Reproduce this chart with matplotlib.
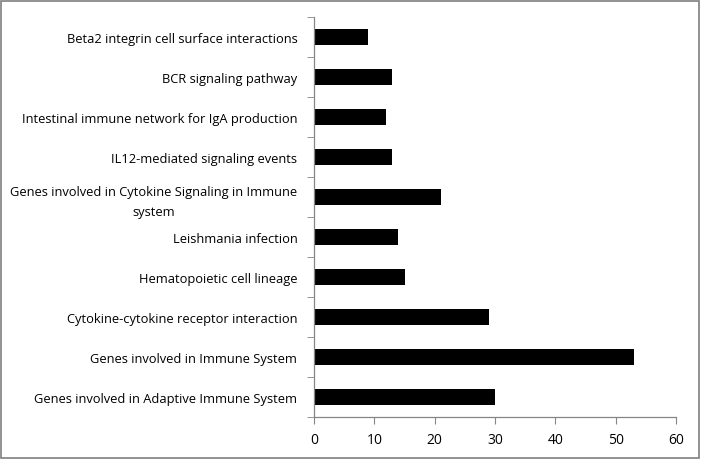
import numpy as np
import matplotlib.pyplot as plt
from matplotlib.patches import Rectangle

plt.rcParams["font.family"] = ["Open Sans", "DejaVu Sans"]
plt.rcParams["font.size"] = 9.3

pathways = [
    "Genes involved in Adaptive Immune System",
    "Genes involved in Immune System",
    "Cytokine-cytokine receptor interaction",
    "Hematopoietic cell lineage",
    "Leishmania infection",
    "Genes involved in Cytokine Signaling in Immune\nsystem",
    "IL12-mediated signaling events",
    "Intestinal immune network for IgA production",
    "BCR signaling pathway",
    "Beta2 integrin cell surface interactions",
]
counts = [30, 53, 29, 15, 14, 21, 13, 12, 13, 9]
xticks = [0, 10, 20, 30, 40, 50, 60]

fig = plt.figure(figsize=(7.01, 4.60), dpi=100)
ax = fig.add_axes([314 / 701, 1 - 418 / 460, 362 / 701, 400 / 460])

y = np.arange(len(pathways))
ax.barh(y, counts, height=0.4, color="black")

ax.set_xlim(0, 60)
ax.set_ylim(-0.5, len(pathways) - 0.5)
ax.set_xticks(xticks)
ax.set_yticks(y)
ax.set_yticklabels(pathways, multialignment="center", linespacing=1.7)
ax.set_yticks(np.arange(-0.5, len(pathways), 1), minor=True)
ax.tick_params(axis="y", which="major", length=0, pad=12)
ax.tick_params(axis="y", which="minor", length=5, color="#868686", direction="out")
ax.tick_params(axis="x", length=5, color="#868686", direction="out", pad=6, labelsize=10)

for side in ["top", "right"]:
    ax.spines[side].set_visible(False)
for side in ["left", "bottom"]:
    ax.spines[side].set_color("#868686")
    ax.spines[side].set_linewidth(0.9)

fig.patches.append(Rectangle((0.002, 0.003), 0.995, 0.993, transform=fig.transFigure,
                             fill=False, edgecolor="#7f7f7f", linewidth=1.2))

fig.savefig("out.png", dpi=100)
